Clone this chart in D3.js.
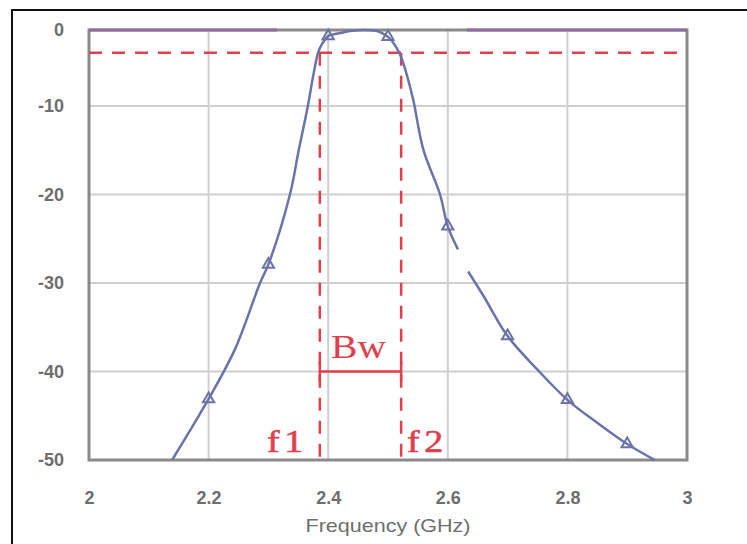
<!DOCTYPE html>
<html>
<head>
<meta charset="utf-8">
<script src="https://cdn.jsdelivr.net/npm/d3@7"></script>
<style>
  body { margin: 0; background: #fff; }
  svg { display: block; }
</style>
</head>
<body>
<div id="chart"></div>
<script>
// measured response (GHz, dB); null marks the break in the trace
const freq = [2.139, 2.2, 2.244, 2.286, 2.3, 2.336, 2.351, 2.366, 2.375, 2.383, 2.39, 2.4, 2.42, 2.44, 2.46, 2.48, 2.49, 2.5, 2.51, 2.52, 2.53, 2.542, 2.559, 2.587, 2.6, 2.617, 2.625, 2.634, 2.66, 2.7, 2.75, 2.8, 2.85, 2.9, 2.946];
const s21  = [-50, -43.1, -37.5, -30, -27.9, -20, -14.9, -10, -6, -3, -1.8, -0.8, -0.4, -0.1, 0, -0.1, -0.4, -0.9, -1.8, -3.2, -5.5, -9.1, -14.9, -20, -23.6, -26.2, null, -28.7, -31.5, -36, -39.8, -43.2, -45.8, -48.2, -50];
const markerFreqs = [2.2, 2.3, 2.4, 2.5, 2.6, 2.7, 2.8, 2.9];
// purple reference trace at 0 dB (visible pieces)
const refSegments = [[2, 2.314], [2.632, 3]];

const xTicks = [2, 2.2, 2.4, 2.6, 2.8, 3];
const yTicks = [-50, -40, -30, -20, -10, 0];

const level3dB = -3;
const f1 = 2.386, f2 = 2.522;
const bwLevel = -40;

const width = 747, height = 544;
const margin = {top: 30, right: 60, bottom: 84, left: 89};

const svg = d3.select("#chart")
    .append("svg")
    .attr("width", width)
    .attr("height", height);

// outer frame (left + top edges)
svg.append("path")
    .attr("d", `M12,${height} L12,10 L${width},10`)
    .attr("fill", "none")
    .attr("stroke", "#111")
    .attr("stroke-width", 2);

const x = d3.scaleLinear()
    .domain([2, 3])
    .range([margin.left, width - margin.right]);

// the top decade is drawn a bit shorter than the others in the picture
const y = d3.scaleLinear()
    .domain([-50, -10, 0])
    .range([height - margin.bottom, 106, margin.top]);

// grid
svg.append("g")
    .selectAll("line")
    .data(xTicks.slice(1, -1))
    .join("line")
    .attr("x1", d => x(d)).attr("x2", d => x(d))
    .attr("y1", y(0)).attr("y2", y(-50))
    .attr("stroke", "#cfcfcf")
    .attr("stroke-width", 2);

svg.append("g")
    .selectAll("line")
    .data(yTicks.slice(1, -1))
    .join("line")
    .attr("x1", x(2)).attr("x2", x(3))
    .attr("y1", d => y(d)).attr("y2", d => y(d))
    .attr("stroke", "#cfcfcf")
    .attr("stroke-width", 2);

// plot frame
svg.append("rect")
    .attr("x", x(2)).attr("y", y(0))
    .attr("width", x(3) - x(2))
    .attr("height", y(-50) - y(0))
    .attr("fill", "none")
    .attr("stroke", "#8a8a8a")
    .attr("stroke-width", 3);

// axes
const tickFont = "Liberation Sans Narrow, Liberation Sans, Arial, sans-serif";
const xAxis = svg.append("g")
    .attr("transform", `translate(0,${y(-50) + 28})`)
    .call(d3.axisBottom(x).tickValues(xTicks).tickSize(0).tickFormat(d => String(d)));
xAxis.select(".domain").remove();
xAxis.selectAll("text")
    .attr("dy", "0.7em")
    .style("font-family", tickFont)
    .style("font-size", "18px")
    .style("font-weight", "bold")
    .style("fill", "#6e6e6e");

const yAxis = svg.append("g")
    .attr("transform", `translate(64,0)`)
    .call(d3.axisLeft(y).tickValues(yTicks).tickSize(0).tickPadding(0).tickFormat(d => String(d)));
yAxis.select(".domain").remove();
yAxis.selectAll("text")
    .style("font-family", tickFont)
    .style("font-size", "18px")
    .style("font-weight", "bold")
    .style("fill", "#6e6e6e");

svg.append("text")
    .attr("x", 388)
    .attr("y", 532)
    .attr("text-anchor", "middle")
    .attr("textLength", 165)
    .attr("lengthAdjust", "spacingAndGlyphs")
    .style("font-family", "Liberation Sans, Arial, sans-serif")
    .style("font-size", "19px")
    .style("fill", "#6e6e6e")
    .text("Frequency (GHz)");

// purple 0 dB trace
svg.append("g")
    .selectAll("line")
    .data(refSegments)
    .join("line")
    .attr("x1", d => x(d[0])).attr("x2", d => x(d[1]))
    .attr("y1", y(0)).attr("y2", y(0))
    .attr("stroke", "#8e6d9e")
    .attr("stroke-width", 3);

// red annotations
const red = "#e0404c";
const dash = "13,10";

svg.append("line")
    .attr("x1", x(2)).attr("x2", x(3))
    .attr("y1", y(level3dB)).attr("y2", y(level3dB))
    .attr("stroke", red).attr("stroke-width", 2.5)
    .attr("stroke-dasharray", dash);

svg.append("g")
    .selectAll("line")
    .data([f1, f2])
    .join("line")
    .attr("x1", d => x(d)).attr("x2", d => x(d))
    .attr("y1", y(level3dB)).attr("y2", y(-50))
    .attr("stroke", red).attr("stroke-width", 2.5)
    .attr("stroke-dasharray", dash);

svg.append("line")
    .attr("x1", x(f1)).attr("x2", x(f2))
    .attr("y1", y(bwLevel)).attr("y2", y(bwLevel))
    .attr("stroke", red).attr("stroke-width", 2.5);

svg.append("g")
    .selectAll("line")
    .data([f1, f2])
    .join("line")
    .attr("x1", d => x(d)).attr("x2", d => x(d))
    .attr("y1", y(bwLevel) - 10).attr("y2", y(bwLevel) + 10)
    .attr("stroke", red).attr("stroke-width", 2.5);

const serif = "Liberation Serif, Times New Roman, serif";
svg.append("text")
    .attr("x", 331).attr("y", 358)
    .attr("textLength", 55)
    .attr("lengthAdjust", "spacingAndGlyphs")
    .style("font-family", serif)
    .style("font-size", "33px")
    .style("fill", red)
    .text("Bw");

svg.append("g")
    .selectAll("text")
    .data([["f1", 267], ["f2", 407]])
    .join("text")
    .attr("x", d => d[1]).attr("y", 452)
    .attr("textLength", 41)
    .attr("lengthAdjust", "spacingAndGlyphs")
    .style("font-family", serif)
    .style("font-size", "32px")
    .style("fill", red)
    .style("stroke", red)
    .style("stroke-width", 0.6)
    .style("letter-spacing", "4px")
    .text(d => d[0]);

// blue response trace
const blue = "#6b73a8";
const pts = freq.map((f, i) => ({f: f, v: s21[i]}));

const line = d3.line()
    .defined(d => d.v !== null)
    .x(d => x(d.f))
    .y(d => y(d.v))
    .curve(d3.curveCatmullRom.alpha(0.5));

svg.append("path")
    .datum(pts)
    .attr("d", line)
    .attr("fill", "none")
    .attr("stroke", blue)
    .attr("stroke-width", 2.5);

const markers = pts.filter(d => markerFreqs.some(m => Math.abs(m - d.f) < 1e-9));
svg.append("g")
    .selectAll("path")
    .data(markers)
    .join("path")
    .attr("transform", d => `translate(${x(d.f)},${y(d.v)})`)
    .attr("d", d3.symbol().type(d3.symbolTriangle).size(55))
    .attr("fill", "none")
    .attr("stroke", blue)
    .attr("stroke-width", 2);
</script>
</body>
</html>
